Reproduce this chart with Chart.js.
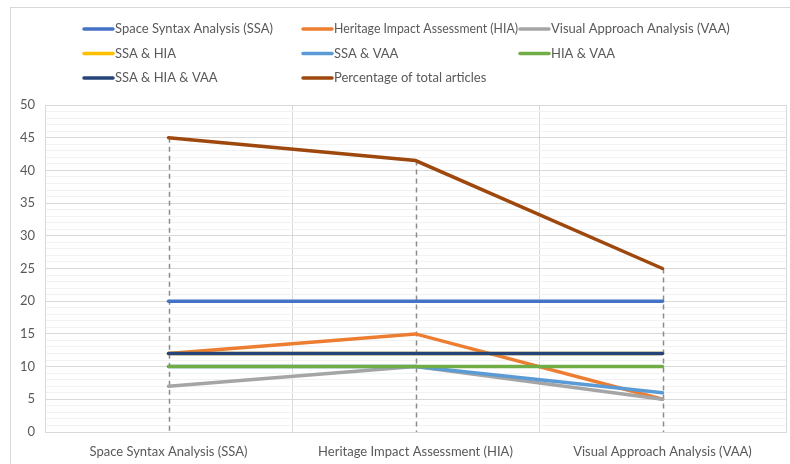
<!DOCTYPE html>
<html>
<head>
<meta charset="utf-8">
<script src="https://cdn.jsdelivr.net/npm/chart.js@4.4.0/dist/chart.umd.min.js"></script>
<style>
	html, body { margin: 0; padding: 0; background: #fff; }
	#wrap { width: 790px; height: 464px; position: relative; }
</style>
</head>
<body>
<div id="wrap"><canvas id="myChart" width="790" height="464"></canvas></div>
<script>
const categories = ['Space Syntax Analysis (SSA)', 'Heritage Impact Assessment (HIA)', 'Visual Approach Analysis (VAA)'];

const seriesNames = [
	'Space Syntax Analysis (SSA)',
	'Heritage Impact Assessment (HIA)',
	'Visual Approach Analysis (VAA)',
	'SSA & HIA',
	'SSA & VAA',
	'HIA & VAA',
	'SSA & HIA & VAA',
	'Percentage of total articles'
];

const ssa = [20, 20, 20];
const hia = [12, 15, 5];
const vaa = [7, 10, 5];
const ssaHia = [12, 12, 12];
const ssaVaa = [10, 10, 6];
const hiaVaa = [10, 10, 10];
const ssaHiaVaa = [12, 12, 12];
const percentTotal = [45, 41.5, 25];

const yTicks = [0, 5, 10, 15, 20, 25, 30, 35, 40, 45, 50];

const colors = ['#4472C4', '#ED7D31', '#A5A5A5', '#FFC000', '#5B9BD5', '#70AD47', '#264478', '#9E480E'];
const values = [ssa, hia, vaa, ssaHia, ssaVaa, hiaVaa, ssaHiaVaa, percentTotal];

const FONT = 'Lato, "Open Sans", sans-serif';
const TEXT_COLOR = '#595959';

// frame around the chart
const framePlugin = {
	id: 'frame',
	beforeDraw(chart) {
		const c = chart.ctx;
		c.save();
		c.strokeStyle = '#d9d9d9';
		c.lineWidth = 1;
		c.strokeRect(10.5, 7.5, 800, 470);
		c.restore();
	}
};

// Excel style drop lines from the highest point of each category
const dropLines = {
	id: 'dropLines',
	beforeDatasetsDraw(chart) {
		const c = chart.ctx;
		const xs = chart.scales.x, ys = chart.scales.y;
		c.save();
		c.strokeStyle = '#8c8c8c';
		c.lineWidth = 1.5;
		c.setLineDash([5, 4]);
		categories.forEach((cat, i) => {
			let top = Math.max(...values.map(v => v[i]));
			let x = Math.round(xs.getPixelForValue(i)) + 0.5;
			c.beginPath();
			c.moveTo(x, ys.getPixelForValue(top));
			c.lineTo(x, ys.bottom);
			c.stroke();
		});
		c.restore();
	}
};

// legend laid out in three fixed columns like the original
const gridLegend = {
	id: 'gridLegend',
	afterDraw(chart) {
		const c = chart.ctx;
		const cols = [83, 302, 519];
		const rows = [29, 53.5, 78];
		c.save();
		c.font = '13px ' + FONT;
		c.fillStyle = TEXT_COLOR;
		c.textBaseline = 'middle';
		chart.data.datasets.forEach((ds, i) => {
			let col = i % 3;
			let x = cols[col], y = rows[Math.floor(i / 3)];
			c.strokeStyle = ds.borderColor;
			c.lineWidth = 3.5;
			c.lineCap = 'round';
			c.beginPath();
			c.moveTo(x + 1, y);
			c.lineTo(x + 30, y);
			c.stroke();
			let room = col < 2 ? cols[col + 1] - x - 33 : 250;
			c.fillText(ds.label, x + 32, y, room);
		});
		c.restore();
	}
};

new Chart(document.getElementById('myChart'), {
	type: 'line',
	data: {
		labels: categories,
		datasets: seriesNames.map((name, i) => ({
			label: name,
			data: values[i],
			borderColor: colors[i],
			backgroundColor: colors[i],
			borderWidth: 3.5,
			borderCapStyle: 'round',
			pointRadius: 0,
			tension: 0,
			order: seriesNames.length - i
		}))
	},
	options: {
		responsive: false,
		animation: false,
		layout: {padding: {top: 105, right: 4, left: 0, bottom: 0}},
		plugins: {
			legend: {display: false},
			tooltip: {enabled: false}
		},
		scales: {
			x: {
				offset: true,
				grid: {offset: true, color: '#d9d9d9', drawTicks: false},
				border: {color: '#d9d9d9'},
				ticks: {color: TEXT_COLOR, font: {family: FONT, size: 13}, padding: 12, maxRotation: 0},
				afterFit: scale => { scale.height = 32; }
			},
			y: {
				min: 0,
				max: 50,
				grid: {
					drawTicks: false,
					color: ctx => (ctx.tick.value % 5 === 0 ? '#d9d9d9' : '#f2f2f2')
				},
				border: {color: '#d9d9d9'},
				ticks: {
					stepSize: 1,
					autoSkip: false,
					color: TEXT_COLOR,
					font: {family: FONT, size: 13},
					padding: 10,
					callback: v => (yTicks.includes(v) ? v : '')
				},
				afterFit: scale => { scale.width = 45; }
			}
		}
	},
	plugins: [framePlugin, dropLines, gridLegend]
});
</script>
</body>
</html>
